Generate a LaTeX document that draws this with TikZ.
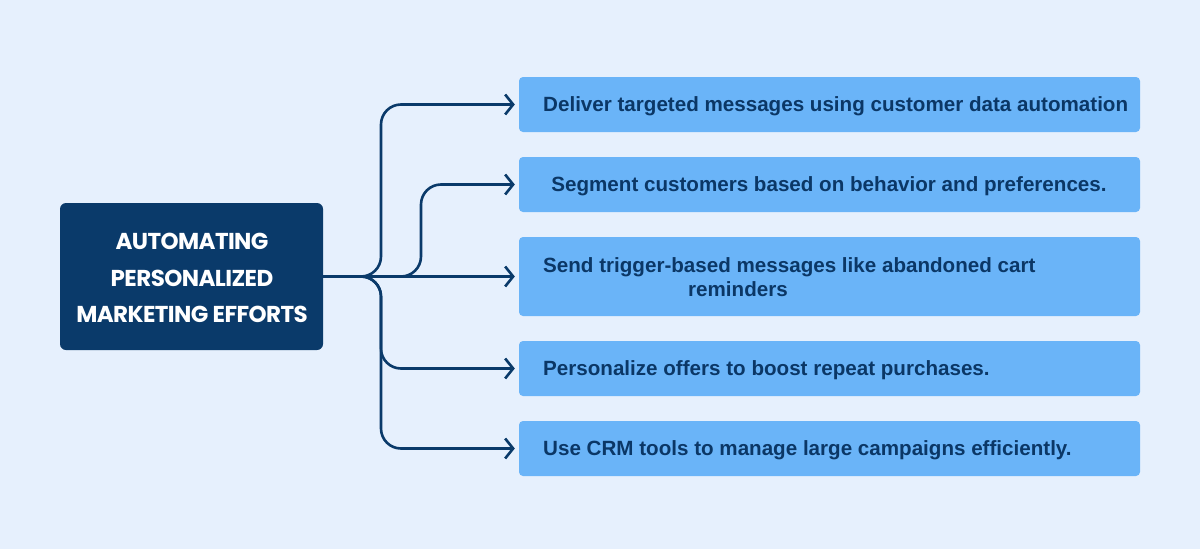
\documentclass[tikz,border=0pt]{standalone}
\usepackage{fontspec}
\setmainfont{Liberation Sans}
\newfontfamily\headfont[LetterSpace=-2.5]{Poppins}
\usetikzlibrary{arrows.meta}
\definecolor{bgc}{HTML}{E6F0FD}
\definecolor{navy}{HTML}{0A3A6A}
\definecolor{lightbox}{HTML}{6AB4F8}
\definecolor{boxtext}{HTML}{0B3766}
\tikzset{
  x=1pt, y=-1pt,
  centerbox/.style={fill=navy, rounded corners=6pt, minimum width=263pt, minimum height=147pt, inner sep=0pt},
  itembox/.style={fill=lightbox, rounded corners=4pt, minimum width=621pt, inner sep=0pt},
  itemtext/.style={font=\fontsize{20.6}{24}\selectfont\bfseries, text=boxtext, inner sep=0pt},
  conn/.style={draw=navy, line width=2.6pt, rounded corners=20pt, shorten >=4pt,
    -{Straight Barb[length=8pt,width=20pt,line width=2.6pt]}},
}
\begin{document}
\begin{tikzpicture}
\useasboundingbox (0,0) rectangle (1200,549);
\fill[bgc] (0,0) rectangle (1200,549);
% center
\node[centerbox] (c) at (191.5,276.5) {};
\node[font=\headfont\fontsize{23}{36.5}\selectfont\bfseries, text=white, align=center, inner sep=0pt] (ct) at (192,278)
  {AUTOMATING\\PERSONALIZED\\MARKETING EFFORTS};
% item boxes
\node[itembox, minimum height=55pt] (b1) at (829.5,104.5) {};
\node[itembox, minimum height=55pt] (b2) at (829.5,184.5) {};
\node[itembox, minimum height=79pt] (b3) at (829.5,276.5) {};
\node[itembox, minimum height=55pt] (b4) at (829.5,368.5) {};
\node[itembox, minimum height=55pt] (b5) at (829.5,448.5) {};
% texts
\node[itemtext, anchor=base west] (t1) at (543,111) {Deliver targeted messages using customer data automation};
\node[itemtext, anchor=base] (t2) at (829,191) {Segment customers based on behavior and preferences.};
\node[itemtext, anchor=base west] (t3a) at (543,272) {Send trigger-based messages like abandoned cart};
\node[itemtext, anchor=base] (t3b) at (738,296) {reminders};
\node[itemtext, anchor=base west] (t4) at (543,375) {Personalize offers to boost repeat purchases.};
\node[itemtext, anchor=base west] (t5) at (543,455) {Use CRM tools to manage large campaigns efficiently.};
% junction coordinates
\coordinate (j1) at (381,276.5);
\coordinate (j2) at (421,276.5);
% connectors
\draw[conn] (c.east) -- (j1) |- (b1.west);
\draw[conn] (c.east) -- (j2) |- (b2.west);
\draw[conn] (c.east) -- (b3.west);
\draw[conn] (c.east) -- (j1) |- (b4.west);
\draw[conn] (c.east) -- (j1) |- (b5.west);
\end{tikzpicture}
\end{document}
